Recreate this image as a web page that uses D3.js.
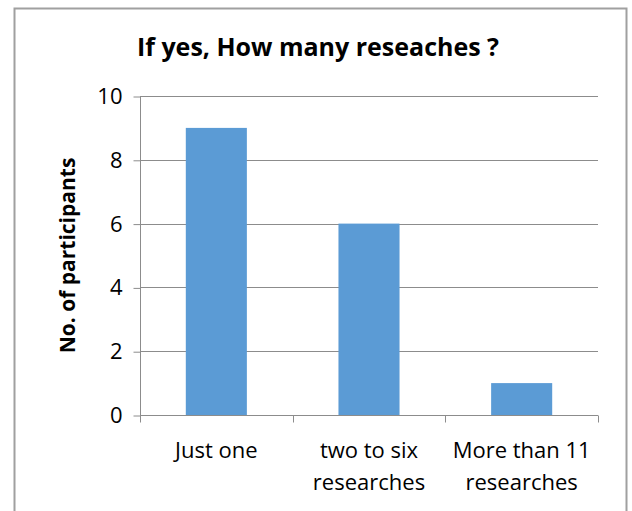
<!DOCTYPE html>
<html>
<head>
<meta charset="utf-8">
<script src="https://cdn.jsdelivr.net/npm/d3@7"></script>
<style>
body { margin: 0; background: #fff; }
text { font-family: "Open Sans", Lato, sans-serif; fill: #000; }
</style>
</head>
<body>
<script>
// chart values
var categories = [["Just one"], ["two to six", "researches"], ["More than 11", "researches"]];
var values = [9, 6, 1];
var yTicks = [0, 2, 4, 6, 8, 10];
var title = "If yes, How many reseaches ?";
var yTitle = "No. of participants";

var width = 632, height = 511;
var plotLeft = 140, plotRight = 598, plotTop = 96, plotBottom = 415;

var svg = d3.select("body").append("svg")
	.attr("width", width)
	.attr("height", height);

// outer frame (bottom edge is cut off in the picture)
svg.append("path")
	.attr("d", "M14.5," + height + "V8.5H626.5V" + height)
	.attr("fill", "none")
	.attr("stroke", "#a0a0a0")
	.attr("stroke-width", 2);

var x = d3.scaleBand()
	.domain(d3.range(categories.length))
	.range([plotLeft, plotRight])
	.paddingInner(0.6)
	.paddingOuter(0.3);

var y = d3.scaleLinear()
	.domain([0, 10])
	.range([plotBottom, plotTop]);

// gridlines
svg.selectAll("line.grid")
	.data(yTicks.filter(function(d){ return d > 0; }))
	.enter().append("line")
		.attr("class", "grid")
		.attr("x1", plotLeft)
		.attr("x2", plotRight)
		.attr("y1", function(d){ return Math.round(y(d)) + 0.5; })
		.attr("y2", function(d){ return Math.round(y(d)) + 0.5; })
		.attr("stroke", "#8c8c8c")
		.attr("stroke-width", 1);

// bars
svg.selectAll("rect.bar")
	.data(values)
	.enter().append("rect")
		.attr("class", "bar")
		.attr("x", function(d,i){ return x(i); })
		.attr("y", function(d){ return y(d); })
		.attr("width", x.bandwidth())
		.attr("height", function(d){ return y(0) - y(d); })
		.attr("fill", "#5b9bd5");

// y axis
var yAxis = svg.append("g")
	.attr("transform", "translate(" + (plotLeft + 0.5) + ",0.5)")
	.call(d3.axisLeft(y).tickValues(yTicks).tickSize(7).tickPadding(11));
yAxis.select(".domain").attr("stroke", "#8c8c8c").attr("d", "M0," + plotTop + "V" + plotBottom);
yAxis.selectAll(".tick line").attr("stroke", "#8c8c8c");
yAxis.selectAll(".tick text")
	.style("font-family", "'Open Sans', sans-serif")
	.style("font-size", "22px")
	.attr("fill", "#000");

// x axis line and category ticks
var xAxis = svg.append("g").attr("transform", "translate(0," + (Math.round(plotBottom) + 0.5) + ")");
xAxis.append("line")
	.attr("x1", plotLeft).attr("x2", plotRight)
	.attr("stroke", "#8c8c8c");
xAxis.selectAll("line.ct")
	.data(d3.range(categories.length + 1))
	.enter().append("line")
		.attr("class", "ct")
		.attr("x1", function(d){ return Math.round(plotLeft + d * x.step()) + 0.5; })
		.attr("x2", function(d){ return Math.round(plotLeft + d * x.step()) + 0.5; })
		.attr("y1", 0)
		.attr("y2", 7)
		.attr("stroke", "#8c8c8c");

// category labels
svg.selectAll("text.cat")
	.data(categories)
	.enter().append("text")
		.attr("class", "cat")
		.attr("text-anchor", "middle")
		.style("font-size", "22px")
		.attr("transform", function(d,i){ return "translate(" + (x(i) + x.bandwidth() / 2) + ",458)"; })
		.selectAll("tspan")
		.data(function(d){ return d; })
		.enter().append("tspan")
			.attr("x", 0)
			.attr("dy", function(d,i){ return i === 0 ? 0 : 32; })
			.text(function(d){ return d; });

// title
svg.append("text")
	.attr("x", 318)
	.attr("y", 56)
	.attr("text-anchor", "middle")
	.style("font-size", "25px")
	.style("font-weight", "bold")
	.text(title);

// y title
svg.append("text")
	.attr("transform", "translate(75," + ((plotTop + plotBottom) / 2) + ") rotate(-90)")
	.attr("text-anchor", "middle")
	.style("font-size", "21px")
	.style("font-weight", "bold")
	.text(yTitle);
</script>
</body>
</html>
